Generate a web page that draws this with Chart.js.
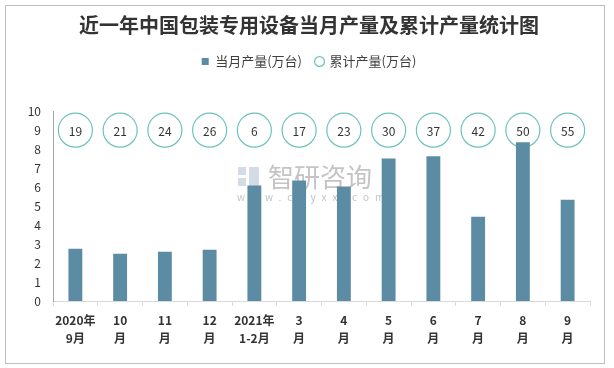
<!DOCTYPE html>
<html>
<head>
<meta charset="utf-8">
<script src="https://cdn.jsdelivr.net/npm/chart.js@4/dist/chart.umd.min.js"></script>
<style>
  html, body { margin: 0; padding: 0; background: #fff; }
</style>
</head>
<body>
<canvas id="chart" width="614" height="368"></canvas>
<script>
// month labels (two lines each)
const months = [
    ["2020年", "9月"], ["10", "月"], ["11", "月"], ["12", "月"],
    ["2021年", "1-2月"], ["3", "月"], ["4", "月"], ["5", "月"],
    ["6", "月"], ["7", "月"], ["8", "月"], ["9", "月"]
];
// monthly output (10k units)
const monthly = [2.75, 2.49, 2.59, 2.70, 6.08, 6.35, 6.03, 7.51, 7.62, 4.44, 8.36, 5.34];
// cumulative output (10k units), shown as bubbles
const cumulative = [19, 21, 24, 26, 6, 17, 23, 30, 37, 42, 50, 55];
// row the bubbles sit on
const bubbleRow = 9;

const FONT = "'Noto Sans CJK SC', 'Noto Sans', sans-serif";

// frame around the whole picture
const framePlugin = {
    id: "frame",
    afterDraw(chart) {
        const ctx = chart.ctx;
        ctx.save();
        ctx.strokeStyle = "#bfbfbf";
        ctx.lineWidth = 1;
        ctx.strokeRect(5.5, 5.5, 599, 358);
        ctx.restore();
    }
};

// watermark behind the bars
const watermarkPlugin = {
    id: "watermark",
    beforeDatasetsDraw(chart) {
        const ctx = chart.ctx;
        ctx.save();
        ctx.fillStyle = "rgba(200,210,225,0.8)";
        ctx.fillRect(238, 167, 8, 8);
        ctx.fillRect(238, 178, 8, 8);
        ctx.fillRect(249, 167, 10, 19);
        ctx.fillStyle = "#c4c4c4";
        ctx.font = "26px " + FONT;
        ctx.textAlign = "left";
        ctx.textBaseline = "middle";
        ctx.fillText("智研咨询", 268, 177);
        ctx.font = "10px " + FONT;
        ctx.letterSpacing = "6px";
        ctx.fillText("www.chyxx.com", 237, 197);
        ctx.restore();
    }
};

// numbers inside the bubbles
const bubbleLabels = {
    id: "bubbleLabels",
    afterDatasetsDraw(chart) {
        const ctx = chart.ctx;
        const meta = chart.getDatasetMeta(1);
        ctx.save();
        ctx.fillStyle = "#333";
        ctx.font = "12px " + FONT;
        ctx.textAlign = "center";
        ctx.textBaseline = "middle";
        meta.data.forEach((pt, i) => {
            ctx.fillText(String(cumulative[i]), pt.x, pt.y + 1);
        });
        ctx.restore();
    }
};

new Chart(document.getElementById("chart"), {
    type: "bar",
    data: {
        labels: months,
        datasets: [{
            label: "当月产量(万台)",
            data: monthly,
            backgroundColor: "#5b8ca3",
            barPercentage: 0.31,
            categoryPercentage: 1,
            pointStyle: "rect"
        }, {
            type: "line",
            label: "累计产量(万台)",
            data: cumulative.map(() => bubbleRow),
            showLine: false,
            pointStyle: "circle",
            pointRadius: 17,
            pointHoverRadius: 17,
            pointBackgroundColor: "rgba(255,255,255,0)",
            backgroundColor: "rgba(255,255,255,0)",
            borderColor: "#6cc3ba",
            pointBorderColor: "#6cc3ba",
            borderWidth: 1.2
        }]
    },
    options: {
        responsive: false,
        animation: false,
        layout: { padding: { left: 28, right: 24, top: 0, bottom: 0 } },
        plugins: {
            tooltip: { enabled: false },
            title: {
                display: true,
                text: "近一年中国包装专用设备当月产量及累计产量统计图",
                color: "#333",
                font: { family: FONT, size: 20, weight: "bold" },
                padding: { top: 13, bottom: 4 }
            },
            legend: {
                display: true,
                weight: 1800,
                labels: {
                    usePointStyle: true,
                    boxHeight: 7,
                    boxWidth: 7,
                    padding: 14,
                    color: "#404040",
                    font: { family: FONT, size: 13 }
                }
            },
            subtitle: {
                display: true,
                text: " ",
                font: { size: 1 },
                padding: { top: 16, bottom: 16 }
            }
        },
        scales: {
            x: {
                grid: {
                    offset: true,
                    drawOnChartArea: false,
                    drawTicks: true,
                    tickLength: 5,
                    color: "#d9d9d9"
                },
                border: { color: "#d9d9d9" },
                ticks: {
                    color: "#333",
                    padding: 6,
                    maxRotation: 0,
                    autoSkip: false,
                    font: { family: FONT, size: 12, weight: "bold", lineHeight: 1.45 }
                },
                afterFit(scale) { scale.height = 67; }
            },
            y: {
                min: 0,
                max: 10,
                grid: { display: false, drawTicks: false },
                border: { color: "#a6a6a6" },
                ticks: {
                    stepSize: 1,
                    color: "#333",
                    padding: 12,
                    font: { family: FONT, size: 12 }
                },
                afterFit(scale) { scale.width = 25; }
            }
        }
    },
    plugins: [framePlugin, watermarkPlugin, bubbleLabels]
});
</script>
</body>
</html>
